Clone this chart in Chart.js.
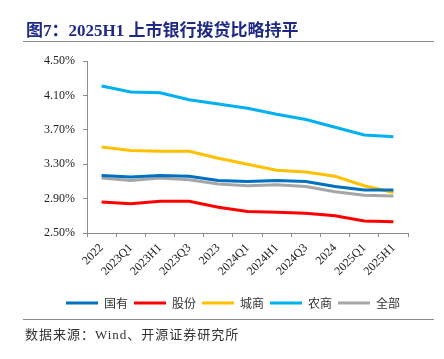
<!DOCTYPE html>
<html>
<head>
<meta charset="utf-8">
<script src="https://cdn.jsdelivr.net/npm/chart.js@4.4.1/dist/chart.umd.min.js"></script>
<style>
  body { margin: 0; background: #fff; }
  #wrap { position: relative; width: 444px; height: 359px; }
  #theChart { position: absolute; left: 0; top: 0; }
  .title {
    position: absolute; left: 26px; top: 16px;
    font-family: "Liberation Serif", "Noto Sans CJK SC", serif;
    font-weight: bold; font-size: 17px; color: #1f2a86; white-space: nowrap;
  }
  .rule { position: absolute; left: 23px; width: 411px; height: 1px; background: #8c8c8c; }
  .source {
    position: absolute; left: 25px; top: 324px;
    font-family: "Liberation Serif", "Noto Sans CJK SC", serif;
    font-size: 13px; letter-spacing: 1px; color: #333; white-space: nowrap;
  }
</style>
</head>
<body>
<div id="wrap">
  <canvas id="theChart" width="444" height="359"></canvas>
  <div class="title">图7：2025H1 上市银行拨贷比略持平</div>
  <div class="rule" style="top:41px"></div>
  <div class="rule" style="top:319px"></div>
  <div class="source">数据来源：Wind、开源证券研究所</div>
</div>
<script>
const periods = ["2022", "2023Q1", "2023H1", "2023Q3", "2023", "2024Q1", "2024H1", "2024Q3", "2024", "2025Q1", "2025H1"];

// 拨贷比 (%)
const guoyou = [3.17, 3.15, 3.17, 3.16, 3.11, 3.10, 3.11, 3.10, 3.04, 3.00, 3.00];
const gufen = [2.86, 2.84, 2.87, 2.87, 2.80, 2.75, 2.74, 2.73, 2.70, 2.64, 2.63];
const chengshang = [3.50, 3.46, 3.45, 3.45, 3.37, 3.30, 3.23, 3.21, 3.16, 3.05, 2.97];
const nongshang = [4.21, 4.14, 4.13, 4.05, 4.00, 3.95, 3.88, 3.82, 3.73, 3.64, 3.62];
const quanbu = [3.14, 3.11, 3.14, 3.12, 3.07, 3.05, 3.06, 3.04, 2.98, 2.94, 2.93];

const yTicks = [2.5, 2.9, 3.3, 3.7, 4.1, 4.5];

const AXIS_GREY = "#8c8c8c";
const serif = "'Liberation Serif', 'Noto Sans CJK SC', serif";

function series(label, values, color) {
  return {
    label: label,
    data: values,
    borderColor: color,
    backgroundColor: color,
    borderWidth: 3,
    pointRadius: 0,
    tension: 0,
    fill: false,
  };
}

// nudge the legend right so it is centred under the plot like the original
const legendShift = {
  id: "legendShift",
  beforeDraw: function (chart) {
    if (chart.legend) {
      chart.legend.left += 24;
      chart.legend.right += 24;
    }
  },
};

const config = {
  type: "line",
  data: {
    labels: periods,
    datasets: [
      series("国有", guoyou, "#0070c0"),
      series("股份", gufen, "#ff0000"),
      series("城商", chengshang, "#ffc000"),
      series("农商", nongshang, "#00b0f0"),
      series("全部", quanbu, "#a6a6a6"),
    ],
  },
  plugins: [legendShift],
  options: {
    responsive: false,
    animation: false,
    layout: {
      padding: { left: 10, right: 36, top: 61, bottom: 40 },
    },
    plugins: {
      title: { display: false },
      tooltip: { enabled: false },
      legend: {
        display: true,
        position: "bottom",
        labels: {
          boxWidth: 32,
          boxHeight: 3,
          padding: 6,
          color: "#333",
          font: { family: "'Noto Sans CJK SC', sans-serif", size: 12 },
          generateLabels: function (chart) {
            const items = Chart.defaults.plugins.legend.labels.generateLabels(chart);
            items.forEach(function (it) { it.lineWidth = 0; });
            return items;
          },
        },
      },
    },
    scales: {
      x: {
        type: "category",
        offset: true,
        afterFit: function (scale) { scale.height = 58; },
        border: { display: true, color: AXIS_GREY, width: 1 },
        grid: {
          display: true,
          offset: true,
          drawOnChartArea: false,
          drawTicks: true,
          tickLength: 4,
          color: AXIS_GREY,
        },
        ticks: {
          autoSkip: false,
          maxRotation: 45,
          minRotation: 45,
          padding: 4,
          color: "#222",
          font: { family: serif, size: 12 },
        },
      },
      y: {
        min: 2.5,
        max: 4.5,
        afterFit: function (scale) { scale.width = 77; },
        afterBuildTicks: function (scale) {
          scale.ticks = yTicks.map(function (v) { return { value: v }; });
        },
        border: { display: true, color: AXIS_GREY, width: 1 },
        grid: {
          display: true,
          drawOnChartArea: false,
          drawTicks: true,
          tickLength: 4,
          color: AXIS_GREY,
        },
        ticks: {
          padding: 8,
          color: "#222",
          font: { family: serif, size: 12 },
          callback: function (v) { return Number(v).toFixed(2) + "%"; },
        },
      },
    },
  },
};

const theChart = new Chart(document.getElementById("theChart"), config);
</script>
</body>
</html>
